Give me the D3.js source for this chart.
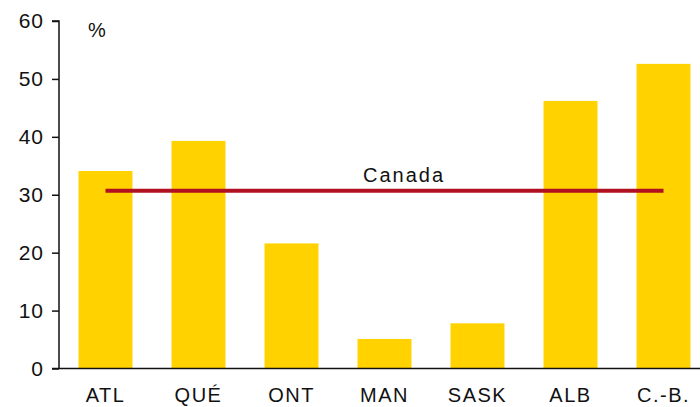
<!DOCTYPE html>
<html>
<head>
<meta charset="utf-8">
<script src="https://cdn.jsdelivr.net/npm/d3@7.9.0/dist/d3.min.js"></script>
<style>
  body { margin: 0; background: #fff; }
  svg text { font-family: "Liberation Sans", Arial, sans-serif; fill: #111; }
</style>
</head>
<body>
<svg id="chart" width="700" height="407"></svg>
<script>
const provinces = ['ATL', 'QUÉ', 'ONT', 'MAN', 'SASK', 'ALB', 'C.-B.'];
const shares = [34.1, 39.3, 21.6, 5.1, 7.8, 46.2, 52.6];
const canadaShare = 30.7;
const yTicks = [0, 10, 20, 30, 40, 50, 60];

const svg = d3.select('#chart');
const plotLeft = 59, plotBottom = 368.5, plotTop = 21;

let x = d3.scaleBand().domain(provinces).range([plotLeft, 710])
  .paddingInner(0.42).paddingOuter(0.21);
let y = d3.scaleLinear().domain([0, 60]).range([plotBottom, plotTop]);

// bars
svg.append('g').selectAll('rect')
  .data(provinces)
  .join('rect')
  .attr('x', (d) => x(d))
  .attr('width', x.bandwidth())
  .attr('y', (d, i) => y(shares[i]))
  .attr('height', (d, i) => y(0) - y(shares[i]))
  .attr('fill', '#FFD200');

// canada average line
const x1 = x(provinces[0]) + x.bandwidth() / 2;
const x2 = x(provinces[provinces.length - 1]) + x.bandwidth() / 2;
svg.append('line')
  .attr('x1', x1).attr('x2', x2)
  .attr('y1', y(canadaShare)).attr('y2', y(canadaShare))
  .attr('stroke', '#B0101F')
  .attr('stroke-width', 4);

svg.append('text')
  .attr('x', 404).attr('y', 182)
  .attr('text-anchor', 'middle')
  .attr('font-size', 20)
  .attr('letter-spacing', 2)
  .text('Canada');

// y axis
const yAxis = svg.append('g')
  .attr('transform', `translate(${plotLeft},0)`)
  .call(d3.axisLeft(y).tickValues(yTicks).tickSize(7).tickPadding(8));
yAxis.selectAll('path, line').attr('stroke', '#111').attr('stroke-width', 1.5);
yAxis.select('.domain').attr('d', `M-7,${plotTop}H0V${plotBottom}`);
yAxis.selectAll('text')
  .attr('font-size', 21)
  .attr('font-family', '"Liberation Sans", Arial, sans-serif')
  .attr('fill', '#111')
  .attr('letter-spacing', 1);

// x baseline
svg.append('line')
  .attr('x1', plotLeft - 7).attr('x2', 700)
  .attr('y1', plotBottom).attr('y2', plotBottom)
  .attr('stroke', '#111').attr('stroke-width', 1.5);

// category labels
svg.append('g').selectAll('text')
  .data(provinces)
  .join('text')
  .attr('x', (d) => x(d) + x.bandwidth() / 2)
  .attr('y', 402)
  .attr('text-anchor', 'middle')
  .attr('font-size', 20)
  .attr('letter-spacing', 1.5)
  .text((d) => d);

svg.append('text')
  .attr('x', 97).attr('y', 37)
  .attr('text-anchor', 'middle')
  .attr('font-size', 20)
  .text('%');
</script>
</body>
</html>
